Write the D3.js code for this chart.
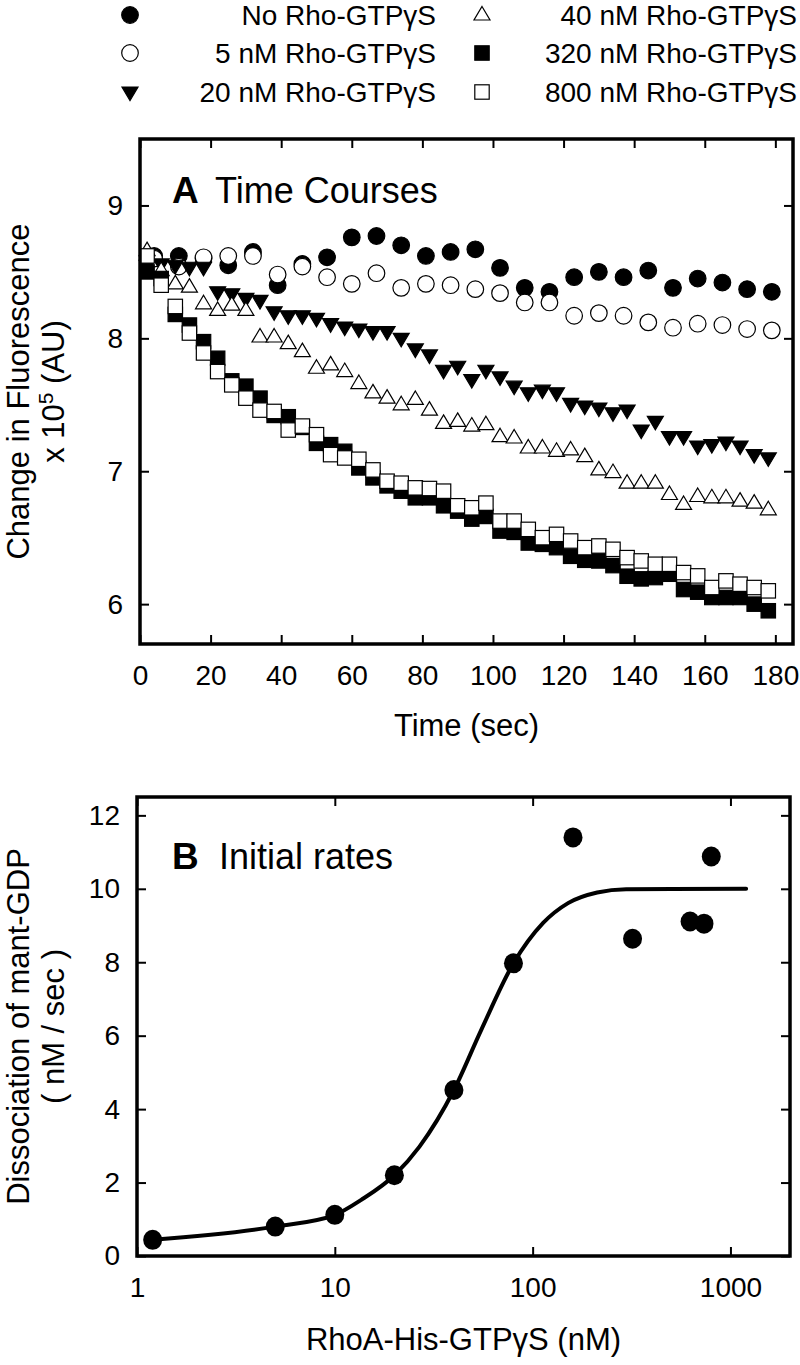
<!DOCTYPE html>
<html>
<head>
<meta charset="utf-8">
<script src="https://cdn.jsdelivr.net/npm/d3@7"></script>
<style>
  body { margin: 0; background: #fff; }
  svg text { font-family: "Liberation Sans", Arial, sans-serif; fill: #000; }
</style>
</head>
<body>
<div id="chart"></div>
<script>
// ---- panel A: time courses (AU x 10^5) ----
const timeSlow = [4,11,18,25,32,39,46,53,60,67,74,81,88,95,102,109,116,123,130,137,144,151,158,165,172,179]
const timeFast = [2,6,10,14,18,22,26,30,34,38,42,46,50,54,58,62,66,70,74,78,82,86,90,94,98,102,106,110,114,118,122,126,130,134,138,142,146,150,154,158,162,166,170,174,178]

const nm0 = [8.62,8.62,8.60,8.55,8.65,8.40,8.56,8.61,8.76,8.77,8.70,8.62,8.65,8.67,8.53,8.38,8.35,8.46,8.50,8.46,8.51,8.38,8.45,8.42,8.37,8.35]
const nm5 = [8.60,8.54,8.61,8.62,8.62,8.48,8.54,8.46,8.41,8.49,8.38,8.41,8.40,8.37,8.34,8.27,8.27,8.17,8.19,8.17,8.12,8.08,8.11,8.10,8.07,8.06]
const nm20 = [8.55,8.56,8.55,8.535,8.535,8.35,8.335,8.30,8.285,8.20,8.17,8.17,8.15,8.11,8.085,8.07,8.05,8.05,8.00,7.92,7.875,7.76,7.79,7.69,7.76,7.71,7.64,7.59,7.61,7.59,7.51,7.49,7.475,7.44,7.46,7.31,7.375,7.26,7.26,7.19,7.20,7.22,7.19,7.125,7.10]
const nm40 = [8.66,8.51,8.41,8.385,8.26,8.21,8.25,8.21,8.01,8.01,7.96,7.90,7.775,7.80,7.75,7.66,7.59,7.55,7.50,7.54,7.46,7.36,7.375,7.34,7.35,7.26,7.25,7.175,7.175,7.15,7.16,7.11,7.01,6.99,6.91,6.91,6.91,6.825,6.75,6.81,6.80,6.80,6.775,6.76,6.71]
const nm320 = [8.50,8.45,8.18,8.10,7.975,7.85,7.68,7.64,7.55,7.42,7.41,7.33,7.21,7.20,7.15,7.025,6.95,6.89,6.85,6.80,6.80,6.74,6.70,6.64,6.66,6.55,6.54,6.46,6.45,6.425,6.36,6.33,6.325,6.29,6.21,6.19,6.20,6.225,6.11,6.09,6.05,6.05,6.05,6.00,5.95]
const nm800 = [8.62,8.40,8.24,8.04,7.89,7.75,7.65,7.55,7.46,7.45,7.31,7.34,7.275,7.125,7.10,7.09,7.01,6.925,6.91,6.875,6.87,6.85,6.74,6.725,6.76,6.625,6.625,6.5625,6.50,6.525,6.475,6.425,6.4375,6.4125,6.35,6.325,6.30,6.30,6.2375,6.2125,6.125,6.175,6.15,6.125,6.10]

const timeTicks = [0,20,40,60,80,100,120,140,160,180]
const fluorTicks = [6,7,8,9]

// ---- panel B: initial rates ----
const rhoConc = [1.2,5,10,20,40,80,160,320,625,735,800]
const rate = [0.44,0.80,1.12,2.2,4.52,7.97,11.4,8.64,9.11,9.05,10.88]
// fitted curve
const fitConc = [1.2,5,10,13.6,20,26.8,40,55,80,113,151,212,297,1200]
const fitRate = [0.44,0.80,1.12,1.53,2.2,2.98,4.52,6.16,7.97,9.07,9.61,9.9,9.99,10.0]

const concTicks = [1,10,100,1000]
const rateTicks = [0,2,4,6,8,10,12]

const legendLabels = ["No  Rho-GTP\u03b3S","5 nM Rho-GTP\u03b3S","20 nM Rho-GTP\u03b3S","40 nM Rho-GTP\u03b3S","320 nM Rho-GTP\u03b3S","800 nM Rho-GTP\u03b3S"]

const series = [
    {t: timeSlow, v: nm0, sym: "circle", fill: "#000"},
    {t: timeSlow, v: nm5, sym: "circle", fill: "#fff"},
    {t: timeFast, v: nm20, sym: "down", fill: "#000"},
    {t: timeFast, v: nm40, sym: "up", fill: "#fff"},
    {t: timeFast, v: nm320, sym: "square", fill: "#000"},
    {t: timeFast, v: nm800, sym: "square", fill: "#fff"}
]

const W = 800, H = 1365
const svg = d3.select("#chart").append("svg")
    .attr("width", W)
    .attr("height", H)

function marker(g, sym, cx, cy, fill) {
    let m
    if (sym === "circle") {
        m = g.append("circle").attr("cx", cx).attr("cy", cy).attr("r", 8.3)
    } else if (sym === "square") {
        m = g.append("rect").attr("x", cx - 7.2).attr("y", cy - 7.2).attr("width", 14.4).attr("height", 14.4)
    } else if (sym === "up") {
        m = g.append("path").attr("d", `M${cx},${cy-8.5}L${cx+8},${cy+5}L${cx-8},${cy+5}Z`)
    } else {
        m = g.append("path").attr("d", `M${cx-8},${cy-5}L${cx+8},${cy-5}L${cx},${cy+8.5}Z`)
    }
    m.attr("fill", fill).attr("stroke", "#000").attr("stroke-width", 1.2)
}

function drawAxes(box, x, y, xticks, yticks) {
    const style = g => {
        g.select(".domain").remove()
        g.selectAll(".tick line").attr("stroke", "#000").attr("stroke-width", 2)
        g.selectAll(".tick text").style("font-size", "28px")
    }
    svg.append("g").attr("transform", "translate(0," + box.bottom + ")")
        .call(d3.axisBottom(x).tickValues(xticks).tickSize(-9).tickPadding(21).tickFormat(d3.format("d")))
        .call(style)
    svg.append("g").attr("transform", "translate(0," + box.top + ")")
        .call(d3.axisTop(x).tickValues(xticks).tickSize(-9).tickFormat(""))
        .call(style)
    svg.append("g").attr("transform", "translate(" + box.left + ",0)")
        .call(d3.axisLeft(y).tickValues(yticks).tickSize(-9).tickPadding(17).tickFormat(d3.format("d")))
        .call(style)
    svg.append("g").attr("transform", "translate(" + box.right + ",0)")
        .call(d3.axisRight(y).tickValues(yticks).tickSize(-9).tickFormat(""))
        .call(style)
    svg.append("rect")
        .attr("x", box.left).attr("y", box.top)
        .attr("width", box.right - box.left).attr("height", box.bottom - box.top)
        .attr("fill", "none").attr("stroke", "#000").attr("stroke-width", 3.5)
}

// ---------------- legend ----------------
const legend = svg.append("g")
const legRows = [15, 53, 92]
legendLabels.forEach((lab, i) => {
    const col = Math.floor(i / 3), row = i % 3
    const sx = col === 0 ? 130 : 482
    const ex = col === 0 ? 436 : 797
    marker(legend, series[i].sym, sx, legRows[row], series[i].fill)
    legend.append("text")
        .attr("x", ex).attr("y", legRows[row] + 10)
        .attr("text-anchor", "end")
        .style("font-size", "28px")
        .text(lab)
})

// ---------------- panel A ----------------
const boxA = {left: 140, right: 793, top: 139, bottom: 644}
const xA = d3.scaleLinear().domain([0, 185]).range([boxA.left, boxA.right])
const yA = d3.scaleLinear().domain([5.7, 9.5]).range([boxA.bottom, boxA.top])

const gA = svg.append("g")
series.forEach(s => {
    s.t.forEach((t, j) => marker(gA, s.sym, xA(t), yA(s.v[j]), s.fill))
})
drawAxes(boxA, xA, yA, timeTicks, fluorTicks)

svg.append("text").attr("x", 172).attr("y", 203)
    .style("font-size", "37px").style("font-weight", "bold").text("A")
svg.append("text").attr("x", 215).attr("y", 203)
    .style("font-size", "36px").text("Time Courses")

svg.append("text")
    .attr("x", (boxA.left + boxA.right) / 2).attr("y", 736)
    .attr("text-anchor", "middle").style("font-size", "31px")
    .text("Time (sec)")

const ylabA = svg.append("g").attr("transform", "translate(0," + (boxA.top + boxA.bottom) / 2 + ") rotate(-90)")
ylabA.append("text").attr("x", 0).attr("y", 29).attr("text-anchor", "middle")
    .style("font-size", "31px").text("Change in Fluorescence")
const l2 = ylabA.append("text").attr("x", 0).attr("y", 64).attr("text-anchor", "middle")
    .style("font-size", "31px")
l2.append("tspan").text("x 10")
l2.append("tspan").attr("dy", -11).style("font-size", "21px").text("5")
l2.append("tspan").attr("dy", 11).text(" (AU)")

// ---------------- panel B ----------------
const boxB = {left: 137, right: 790, top: 797, bottom: 1256}
const xB = d3.scaleLog().domain([1, 2000]).range([boxB.left, boxB.right])
const yB = d3.scaleLinear().domain([0, 12.5]).range([boxB.bottom, boxB.top])

svg.append("path")
    .datum(fitConc.map((c, i) => [c, fitRate[i]]))
    .attr("fill", "none").attr("stroke", "#000").attr("stroke-width", 4)
    .attr("stroke-linecap", "round")
    .attr("d", d3.line().x(d => xB(d[0])).y(d => yB(d[1])).curve(d3.curveMonotoneX))

svg.append("g").selectAll("ellipse")
    .data(rhoConc)
    .join("ellipse")
    .attr("cx", d => xB(d))
    .attr("cy", (d, i) => yB(rate[i]))
    .attr("rx", 9.5).attr("ry", 10)
    .attr("fill", "#000")

drawAxes(boxB, xB, yB, concTicks, rateTicks)

svg.append("text").attr("x", 172).attr("y", 869)
    .style("font-size", "37px").style("font-weight", "bold").text("B")
svg.append("text").attr("x", 219).attr("y", 869)
    .style("font-size", "36px").text("Initial rates")

svg.append("text")
    .attr("x", (boxB.left + boxB.right) / 2).attr("y", 1350)
    .attr("text-anchor", "middle").style("font-size", "31px")
    .text("RhoA-His-GTP\u03b3S (nM)")

const ylabB = svg.append("g").attr("transform", "translate(0," + (boxB.top + boxB.bottom) / 2 + ") rotate(-90)")
ylabB.append("text").attr("x", 0).attr("y", 29).attr("text-anchor", "middle")
    .style("font-size", "31px").text("Dissociation of mant-GDP")
ylabB.append("text").attr("x", 0).attr("y", 64).attr("text-anchor", "middle")
    .style("font-size", "31px").text("( nM / sec )")
</script>
</body>
</html>
